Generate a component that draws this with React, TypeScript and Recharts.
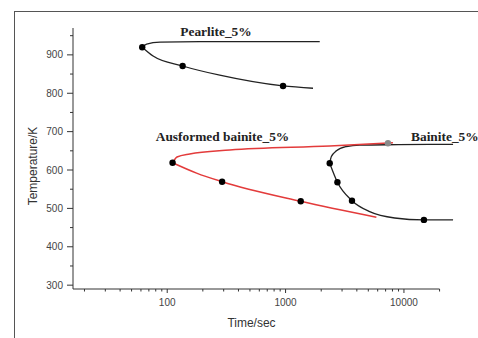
import React from 'react';
import { ComposedChart, Line, Scatter, XAxis, YAxis, ReferenceLine } from 'recharts';

// time in sec, temperature in K
const pearliteUpper = [
  { t: 61.5, T: 920 }, { t: 67, T: 928 }, { t: 87, T: 933 }, { t: 190, T: 934.4 }, { t: 600, T: 934.4 }, { t: 1944, T: 934.4 },
];
const pearliteLower = [
  { t: 61.5, T: 920 }, { t: 76, T: 897 }, { t: 135, T: 871 }, { t: 278, T: 847 }, { t: 952, T: 819 }, { t: 1706, T: 813 },
];
const ausUpper = [
  { t: 111, T: 619 }, { t: 121, T: 634 }, { t: 155, T: 642 }, { t: 338, T: 652 }, { t: 2360, T: 662.5 }, { t: 8070, T: 671 },
];
const ausLower = [
  { t: 111, T: 619 }, { t: 177, T: 592 }, { t: 291, T: 569.6 }, { t: 1343, T: 518.5 }, { t: 5850, T: 477 },
];
const bainiteUpper = [
  { t: 2360, T: 617.6 }, { t: 2438, T: 635 }, { t: 2689, T: 650 }, { t: 3266, T: 661 }, { t: 4227, T: 665 }, { t: 9000, T: 666 }, { t: 26000, T: 667 },
];
const bainiteLower = [
  { t: 2360, T: 617.6 }, { t: 2742, T: 568 }, { t: 3640, T: 520 }, { t: 5134, T: 491.5 }, { t: 8350, T: 475 }, { t: 14750, T: 470 }, { t: 26000, T: 470 },
];
const markers = [
  { t: 61.5, T: 920 }, { t: 135, T: 871 }, { t: 952, T: 819 },
  { t: 111, T: 619 }, { t: 291, T: 569.6 }, { t: 1343, T: 518.5 },
  { t: 2360, T: 617.6 }, { t: 2742, T: 568 }, { t: 3640, T: 520 }, { t: 14750, T: 470 },
];
const greyMarker = [{ t: 7330, T: 669.7 }];

const xTicks = [20, 30, 40, 50, 60, 70, 80, 90, 100, 200, 300, 400, 500, 600, 700, 800, 900, 1000,
  2000, 3000, 4000, 5000, 6000, 7000, 8000, 9000, 10000, 20000];
const xLabels = [100, 1000, 10000];
const yTicks = [300, 350, 400, 450, 500, 550, 600, 650, 700, 750, 800, 850, 900, 950];

const sans = '"Liberation Sans", Arial, sans-serif';
const serif = '"Liberation Serif", "Times New Roman", serif';

const XTick = (props: any) => {
  const { x, y, payload } = props;
  const major = xLabels.includes(payload.value);
  return (
    <g>
      <line x1={x} x2={x} y1={y} y2={y + (major ? 4 : 2.5)} stroke="#333" />
      {major && (
        <text x={x} y={y + 17} textAnchor="middle" fontSize={10} fill="#444" fontFamily={sans}>{payload.value}</text>
      )}
    </g>
  );
};

const YTick = (props: any) => {
  const { x, y, payload } = props;
  const major = payload.value % 100 === 0;
  return (
    <g>
      <line x1={x - (major ? 6 : 3)} x2={x} y1={y} y2={y} stroke="#333" />
      {major && (
        <text x={x - 10} y={y + 3.5} textAnchor="end" fontSize={10} fill="#444" fontFamily={sans}>{payload.value}</text>
      )}
    </g>
  );
};

const dot = (fill: string) => (p: any) => <circle cx={p.cx} cy={p.cy} r={3.2} fill={fill} />;

const note: React.CSSProperties = { position: 'absolute', fontFamily: serif, fontWeight: 'bold', fontSize: 13.4, color: '#222', whiteSpace: 'nowrap', lineHeight: 1 };

export default function App() {
  return (
    <div style={{ position: 'absolute', left: 0, top: 0, width: 478, height: 338, overflow: 'hidden', background: '#fff' }}>
      <div style={{ position: 'absolute', left: 14, top: 11, width: 500, height: 400, borderLeft: '1px solid #555', borderTop: '1px solid #555' }} />
      <ComposedChart width={478} height={338} margin={{ top: 28, right: 23, bottom: 0, left: 13 }} style={{ position: 'absolute', left: 0, top: 0 }}>
        <XAxis type="number" dataKey="t" scale="log" domain={[16, 27000]} ticks={xTicks} interval={0}
          axisLine={false} tickLine={false} tickSize={0} tickMargin={0} height={49} tick={<XTick />} allowDataOverflow />
        <YAxis type="number" dataKey="T" domain={[290, 970]} ticks={yTicks} interval={0}
          axisLine={{ stroke: '#333' }} tickLine={false} tickSize={0} tickMargin={0} width={60} tick={<YTick />} />
        <ReferenceLine segment={[{ x: 16, y: 290 }, { x: 20000, y: 290 }]} stroke="#333" />
        <Line data={pearliteUpper} dataKey="T" type="monotone" stroke="#222" strokeWidth={1.3} dot={false} isAnimationActive={false} />
        <Line data={pearliteLower} dataKey="T" type="monotone" stroke="#222" strokeWidth={1.3} dot={false} isAnimationActive={false} />
        <Line data={bainiteUpper} dataKey="T" type="monotone" stroke="#222" strokeWidth={1.3} dot={false} isAnimationActive={false} />
        <Line data={bainiteLower} dataKey="T" type="monotone" stroke="#222" strokeWidth={1.3} dot={false} isAnimationActive={false} />
        <Line data={ausUpper} dataKey="T" type="monotone" stroke="#e33b3b" strokeWidth={1.5} dot={false} isAnimationActive={false} />
        <Line data={ausLower} dataKey="T" type="monotone" stroke="#e33b3b" strokeWidth={1.5} dot={false} isAnimationActive={false} />
        <Scatter data={markers} dataKey="T" shape={dot('#000')} isAnimationActive={false} />
        <Scatter data={greyMarker} dataKey="T" shape={dot('#8a8a8a')} isAnimationActive={false} />
      </ComposedChart>
      <div style={{ ...note, left: 216, top: 32, transform: 'translate(-50%, -50%)' }}>Pearlite_5%</div>
      <div style={{ ...note, left: 222.5, top: 137, transform: 'translate(-50%, -50%)' }}>Ausformed bainite_5%</div>
      <div style={{ ...note, left: 411, top: 137, transform: 'translate(0, -50%)' }}>Bainite_5%</div>
      <div style={{ position: 'absolute', left: 33, top: 166, transform: 'translate(-50%, -50%) rotate(-90deg)', fontFamily: sans, fontSize: 12, color: '#333', whiteSpace: 'nowrap', lineHeight: 1 }}>Temperature/K</div>
      <div style={{ position: 'absolute', left: 251.5, top: 323, transform: 'translate(-50%, -50%)', fontFamily: sans, fontSize: 12, color: '#333', whiteSpace: 'nowrap', lineHeight: 1 }}>Time/sec</div>
    </div>
  );
}
